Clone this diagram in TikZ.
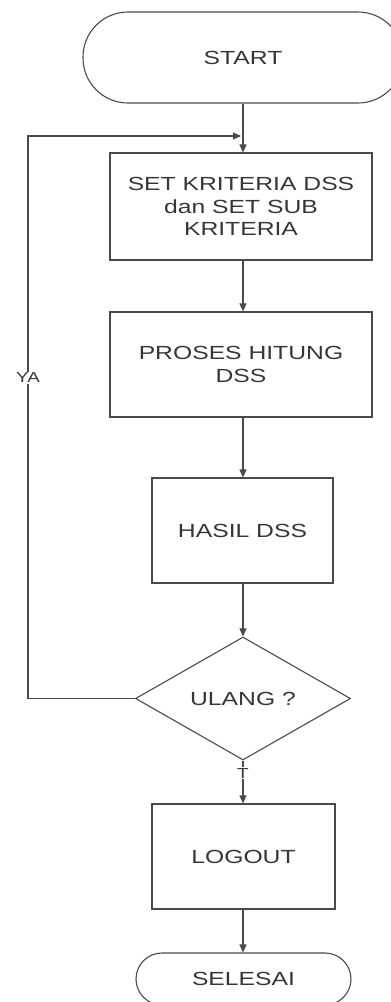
\documentclass[tikz,border=0pt]{standalone}
\usepackage{fontspec}
\setmainfont{Liberation Sans}[FakeStretch=1.3]
\usetikzlibrary{arrows.meta,shapes.geometric}
\definecolor{lc}{HTML}{4A4A4A}
\definecolor{tc}{HTML}{363636}
\tikzset{
  base/.style={draw=lc, line width=1.1pt, align=center, text=tc, inner sep=0pt,
    font=\fontsize{19}{22.5}\selectfont},
  proc/.style={base, rectangle},
  term/.style={base, rectangle, rounded corners=#1},
  dec/.style={base, diamond, aspect=1.75},
  conn/.style={draw=lc, line width=1.1pt},
  arr/.style={conn, -{Triangle[length=8pt,width=7pt]}},
  lbl/.style={fill=white, text=tc, inner sep=1pt, font=\fontsize{14.5}{16}\selectfont}
}
\begin{document}
\begin{tikzpicture}[x=1pt,y=-1pt]
\useasboundingbox (0,0) rectangle (391,1002);
\node[term=45pt, minimum width=320pt, minimum height=91pt] (start) at (243,57.5) {START};
\node[proc, minimum width=262pt, minimum height=107pt] (b1) at (241,206.5) {SET KRITERIA DSS\\dan SET SUB\\KRITERIA};
\node[proc, minimum width=262pt, minimum height=105pt] (b2) at (241,364.5) {PROSES HITUNG\\DSS};
\node[proc, minimum width=181pt, minimum height=105pt] (b3) at (242.5,530.5) {HASIL DSS};
\node[dec, minimum width=215pt, minimum height=123pt] (d) at (243,698.5) {ULANG ?};
\node[proc, minimum width=183pt, minimum height=105pt] (lo) at (243.5,856.5) {LOGOUT};
\node[term=26pt, minimum width=215pt, minimum height=52pt] (end) at (243.5,979) {SELESAI};
\coordinate (j) at (243,136);
\coordinate (c) at (28,698.5);
\draw[arr] (start.south -| j) -- (b1.north -| j);
\draw[arr] (b1.south -| j) -- (b2.north -| j);
\draw[arr] (b2.south -| j) -- (b3.north -| j);
\draw[arr] (b3.south -| j) -- (d.north);
\draw[arr] (d.south) -- node[lbl, pos=0.3] (t) {T} (lo.north -| d.south);
\draw[arr] (lo.south -| d.south) -- (end.north -| d.south);
\draw[arr] (d.west) -- (c) -- node[lbl, pos=0.57] (ya) {YA} (c |- j) -- ([xshift=-2pt]j);
\end{tikzpicture}
\end{document}
